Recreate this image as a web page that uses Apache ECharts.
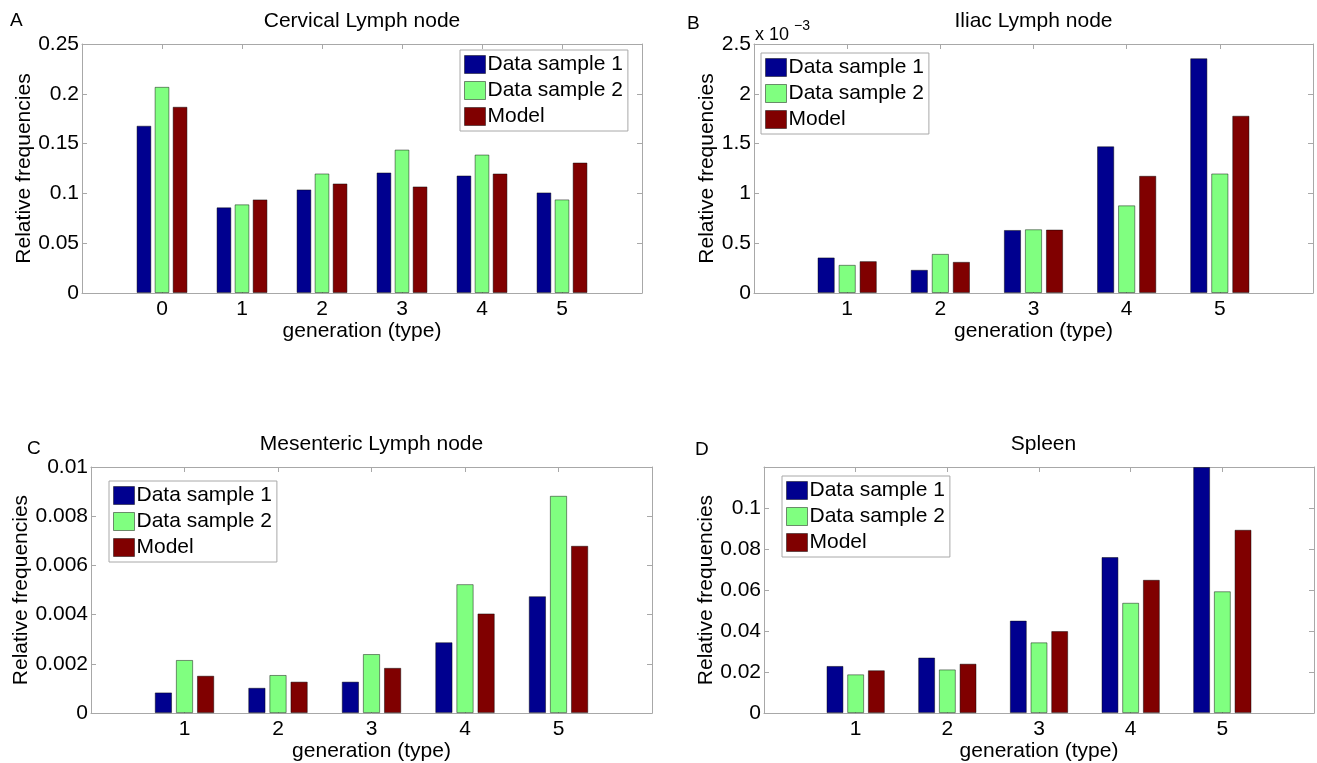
<!DOCTYPE html>
<html><head><meta charset="utf-8">
<script src="https://cdn.jsdelivr.net/npm/echarts@6/dist/echarts.min.js"></script>
<style>html,body{margin:0;padding:0;background:#fff}#c{width:1317px;height:763px}</style>
</head><body><div id="c"></div>
<script>
// ---- data ----
const seriesNames = ['Data sample 1', 'Data sample 2', 'Model'];
const catsA = [0, 1, 2, 3, 4, 5];
const catsB = [1, 2, 3, 4, 5];
const catsC = [1, 2, 3, 4, 5];
const catsD = [1, 2, 3, 4, 5];

const cervicalDS1   = [0.168, 0.086, 0.104, 0.121, 0.118, 0.101];
const cervicalDS2   = [0.207, 0.089, 0.120, 0.144, 0.139, 0.094];
const cervicalModel = [0.187, 0.094, 0.110, 0.107, 0.120, 0.131];

const iliacDS1   = [0.357e-3, 0.233e-3, 0.633e-3, 1.473e-3, 2.357e-3];
const iliacDS2   = [0.283e-3, 0.393e-3, 0.640e-3, 0.880e-3, 1.200e-3];
const iliacModel = [0.320e-3, 0.313e-3, 0.637e-3, 1.177e-3, 1.780e-3];

const mesDS1   = [0.00084, 0.00103, 0.00128, 0.00288, 0.00475];
const mesDS2   = [0.00216, 0.00155, 0.00240, 0.00524, 0.00883];
const mesModel = [0.00152, 0.00128, 0.00184, 0.00405, 0.00680];

const spleenDS1   = [0.0230, 0.0271, 0.0451, 0.0761, 0.1200];
const spleenDS2   = [0.0189, 0.0213, 0.0345, 0.0538, 0.0594];
const spleenModel = [0.0209, 0.0241, 0.0400, 0.0650, 0.0894];

const titles = ['Cervical Lymph node', 'Iliac Lymph node', 'Mesenteric Lymph node', 'Spleen'];
const letters = ['A', 'B', 'C', 'D'];
const xAxisName = 'generation (type)';
const yAxisName = 'Relative frequencies';

// ---- layout / style ----
const FONT = 'Liberation Sans, Arial, sans-serif';
const colors = ['#00008F', '#80FF80', '#800000'];
const boxColor = '#a8a8a8';

const panels = [
  { cats: catsA, vals: [cervicalDS1, cervicalDS2, cervicalModel], xMin: -1, xMax: 6, yMax: 0.25, yInt: 0.05,
    grid: { left: 82, top: 44, width: 560, height: 249 }, legend: { left: 460, top: 50 }, yGap: 46,
    fmt: v => String(v) },
  { cats: catsB, vals: [iliacDS1, iliacDS2, iliacModel], xMin: 0, xMax: 6, yMax: 0.0025, yInt: 0.0005,
    grid: { left: 754, top: 44, width: 559, height: 249 }, legend: { left: 761, top: 53 }, yGap: 36,
    fmt: v => String(parseFloat((v * 1000).toFixed(4))) },
  { cats: catsC, vals: [mesDS1, mesDS2, mesModel], xMin: 0, xMax: 6, yMax: 0.01, yInt: 0.002,
    grid: { left: 91, top: 467, width: 561, height: 250 }, legend: { left: 109, top: 481 }, yGap: 58,
    fmt: v => String(parseFloat(v.toFixed(6))) },
  { cats: catsD, vals: [spleenDS1, spleenDS2, spleenModel], xMin: 0, xMax: 6, yMax: 0.12, yInt: 0.02,
    grid: { left: 764, top: 467, width: 559, height: 250 }, legend: { left: 782, top: 476 }, yGap: 46,
    fmt: v => (Math.abs(v - 0.12) < 1e-9 ? '' : String(parseFloat(v.toFixed(6)))) }
];

const grid = [], xAxis = [], yAxis = [], series = [], legend = [], graphic = [];

panels.forEach((p, i) => {
  grid.push(Object.assign({ show: false, containLabel: false }, p.grid));
  const lineStyle = { color: boxColor, width: 1 };
  const tickStyle = { show: true, inside: true, length: 5, lineStyle: { color: boxColor } };
  const xLabelFmt = v => (p.cats.indexOf(v) >= 0 ? String(v) : '');
  xAxis.push({
    type: 'value', gridIndex: i, min: p.xMin, max: p.xMax, interval: 1, position: 'bottom',
    axisLine: { show: true, onZero: false, lineStyle }, axisTick: tickStyle, splitLine: { show: false },
    axisLabel: { formatter: xLabelFmt, color: '#000', fontSize: 21, fontFamily: FONT, margin: 6,
                 showMinLabel: true, showMaxLabel: true },
    name: xAxisName, nameLocation: 'middle', nameGap: 25,
    nameTextStyle: { color: '#000', fontSize: 21, fontFamily: FONT }
  });
  xAxis.push({
    type: 'value', gridIndex: i, min: p.xMin, max: p.xMax, interval: 1, position: 'top',
    axisLine: { show: true, onZero: false, lineStyle }, axisTick: tickStyle, splitLine: { show: false },
    axisLabel: { show: false }
  });
  yAxis.push({
    type: 'value', gridIndex: i, min: 0, max: p.yMax, interval: p.yInt, position: 'left',
    axisLine: { show: true, onZero: false, lineStyle }, axisTick: tickStyle, splitLine: { show: false },
    axisLabel: { formatter: p.fmt, color: '#000', fontSize: 21, fontFamily: FONT, margin: 3 },
    name: yAxisName, nameLocation: 'middle', nameGap: p.yGap,
    nameTextStyle: { color: '#000', fontSize: 21, fontFamily: FONT }
  });
  yAxis.push({
    type: 'value', gridIndex: i, min: 0, max: p.yMax, interval: p.yInt, position: 'right',
    axisLine: { show: true, onZero: false, lineStyle }, axisTick: tickStyle, splitLine: { show: false },
    axisLabel: { show: false }
  });
  p.vals.forEach((arr, k) => {
    series.push({
      type: 'bar', name: seriesNames[k], xAxisIndex: 2 * i, yAxisIndex: 2 * i,
      data: p.cats.map((c, j) => [c, arr[j]]),
      barWidth: '18.5%', barGap: '22%',
      itemStyle: { color: colors[k], borderColor: 'rgba(0,0,0,0.45)', borderWidth: 1 },
      emphasis: { disabled: true }, animation: false
    });
  });
  legend.push({
    left: p.legend.left, top: p.legend.top, orient: 'vertical', data: seriesNames,
    itemWidth: 21, itemHeight: 18, itemGap: 5, padding: [4, 5, 4, 4],
    borderColor: boxColor, borderWidth: 1, backgroundColor: '#fff', selectedMode: false,
    icon: 'rect', itemStyle: { borderColor: 'rgba(0,0,0,0.45)', borderWidth: 1 },
    textStyle: { color: '#000', fontSize: 21, fontFamily: FONT, padding: [0, 0, 0, -3] }
  });
  const cx = p.grid.left + p.grid.width / 2;
  graphic.push({ type: 'text', style: { text: titles[i], x: cx, y: p.grid.top - 23, textAlign: 'center',
    textVerticalAlign: 'middle', font: '21px ' + FONT, fill: '#000' } });
});

graphic.push({ type: 'text', style: { text: letters[0], x: 10, y: 21, textVerticalAlign: 'middle', font: '19px ' + FONT, fill: '#000' } });
graphic.push({ type: 'text', style: { text: letters[1], x: 687, y: 24, textVerticalAlign: 'middle', font: '19px ' + FONT, fill: '#000' } });
graphic.push({ type: 'text', style: { text: letters[2], x: 27, y: 449, textVerticalAlign: 'middle', font: '19px ' + FONT, fill: '#000' } });
graphic.push({ type: 'text', style: { text: letters[3], x: 695, y: 450, textVerticalAlign: 'middle', font: '19px ' + FONT, fill: '#000' } });
graphic.push({ type: 'text', style: { text: 'x 10', x: 755, y: 35, textVerticalAlign: 'middle', font: '18px ' + FONT, fill: '#000' } });
graphic.push({ type: 'text', style: { text: '\u22123', x: 794, y: 26, textVerticalAlign: 'middle', font: '14px ' + FONT, fill: '#000' } });

const chart = echarts.init(document.getElementById('c'), null, { renderer: 'canvas' });
chart.setOption({ animation: false, backgroundColor: '#fff', grid, xAxis, yAxis, series, legend, graphic });
</script>
</body></html>
